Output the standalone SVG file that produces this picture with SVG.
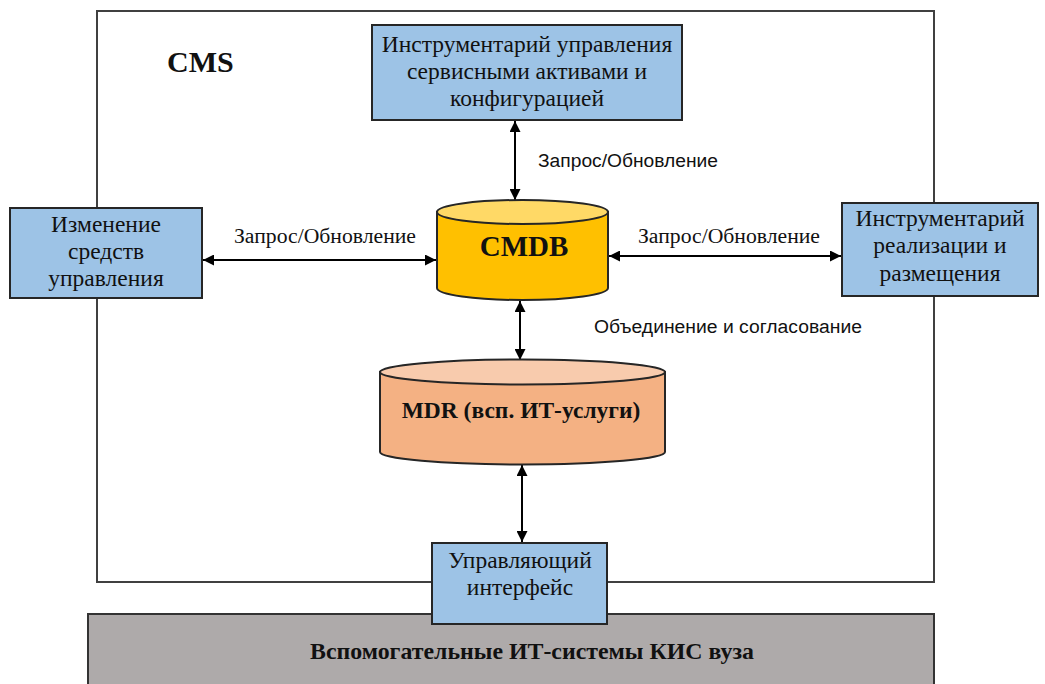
<svg xmlns="http://www.w3.org/2000/svg" width="1045" height="684" viewBox="0 0 1045 684">
  <style>
    .box { fill: #9dc3e6; stroke: #262626; stroke-width: 2; }
    .frame { fill: #ffffff; stroke: #404040; stroke-width: 2; }
    .serif { font-family: "Liberation Serif", "Times New Roman", serif; fill: #111; }
    .sans { font-family: "Liberation Sans", Arial, sans-serif; fill: #111; }
    .lbl { font-size: 23.5px; text-anchor: middle; }
    .conn { stroke: #000; stroke-width: 2; fill: none; marker-start: url(#ah); marker-end: url(#ah); }
  </style>
  <defs>
    <marker id="ah" viewBox="0 0 10 10" refX="10" refY="5" markerWidth="11" markerHeight="11" markerUnits="userSpaceOnUse" orient="auto-start-reverse">
      <path d="M0,0 L10,5 L0,10 Z" fill="#000"/>
    </marker>
  </defs>

  <rect width="1045" height="684" fill="#ffffff"/>

  <!-- CMS boundary -->
  <g id="cms">
    <rect class="frame" x="97" y="11" width="837" height="571"/>
    <text class="serif" x="167" y="72" font-size="30" font-weight="bold">CMS</text>
  </g>

  <!-- supporting IT systems band -->
  <g id="support-systems">
    <rect x="88" y="614" width="846" height="75" fill="#aeaaaa" stroke="#333" stroke-width="2"/>
    <text class="serif" x="532" y="659" font-size="23" font-weight="bold" text-anchor="middle" textLength="444" lengthAdjust="spacingAndGlyphs">Вспомогательные ИТ-системы КИС вуза</text>
  </g>

  <!-- connectors -->
  <g id="connectors">
    <line class="conn" x1="515" y1="121" x2="515" y2="200"/>
    <line class="conn" x1="203" y1="260" x2="436" y2="260"/>
    <line class="conn" x1="609" y1="256" x2="841" y2="256"/>
    <line class="conn" x1="520" y1="301" x2="520" y2="360"/>
    <line class="conn" x1="522" y1="465" x2="522" y2="542"/>
    <text class="sans" x="538" y="167" font-size="18" textLength="180" lengthAdjust="spacingAndGlyphs">Запрос/Обновление</text>
    <text class="serif" x="234" y="243" font-size="20" textLength="182" lengthAdjust="spacingAndGlyphs">Запрос/Обновление</text>
    <text class="serif" x="638" y="243" font-size="20" textLength="182" lengthAdjust="spacingAndGlyphs">Запрос/Обновление</text>
    <text class="sans" x="594" y="333" font-size="18" textLength="268" lengthAdjust="spacingAndGlyphs">Объединение и согласование</text>
  </g>

  <g id="asset-tools">
    <rect class="box" x="372" y="25" width="310" height="95"/>
    <text class="serif lbl" x="527" y="52">Инструментарий управления</text>
    <text class="serif lbl" x="527" y="79">сервисными активами и</text>
    <text class="serif lbl" x="527" y="106">конфигурацией</text>
  </g>

  <g id="change-tools">
    <rect class="box" x="10" y="208" width="192" height="90"/>
    <text class="serif lbl" x="106" y="232">Изменение</text>
    <text class="serif lbl" x="106" y="259">средств</text>
    <text class="serif lbl" x="106" y="286">управления</text>
  </g>

  <g id="deploy-tools">
    <rect class="box" x="842" y="203" width="196" height="93"/>
    <text class="serif lbl" x="940" y="226">Инструментарий</text>
    <text class="serif lbl" x="940" y="253">реализации и</text>
    <text class="serif lbl" x="940" y="281">размещения</text>
  </g>

  <g id="cmdb">
    <path d="M437,212 L437,288 A85.5,12 0 0 0 608,288 L608,212 Z" fill="#ffc000" stroke="#262626" stroke-width="2"/>
    <ellipse cx="522.5" cy="212" rx="85.5" ry="12" fill="#ffd966" stroke="#262626" stroke-width="2"/>
    <text class="serif" x="524" y="256" font-size="29" font-weight="bold" text-anchor="middle">CMDB</text>
  </g>

  <g id="mdr">
    <path d="M380,372 L380,452 A142.5,12.5 0 0 0 665,452 L665,372 Z" fill="#f4b183" stroke="#262626" stroke-width="2"/>
    <ellipse cx="522.5" cy="372" rx="142.5" ry="12.5" fill="#f8cbad" stroke="#262626" stroke-width="2"/>
    <text class="serif" x="521" y="418" font-size="23.5" font-weight="bold" text-anchor="middle">MDR (всп. ИТ-услуги)</text>
  </g>

  <g id="control-interface">
    <rect class="box" x="432" y="543" width="175" height="81"/>
    <text class="serif lbl" x="520" y="568">Управляющий</text>
    <text class="serif lbl" x="520" y="595">интерфейс</text>
  </g>
</svg>
